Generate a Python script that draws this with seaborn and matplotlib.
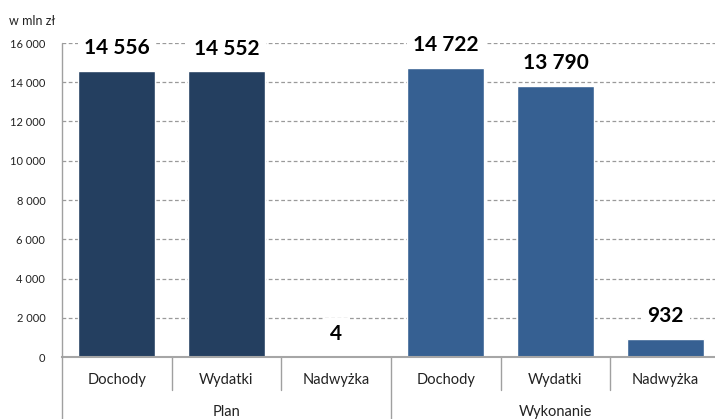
import numpy as np
import pandas as pd
import matplotlib
matplotlib.use("Agg")
import matplotlib.pyplot as plt
import seaborn as sns

# dane (w mln zł)
groups = ["Plan", "Plan", "Plan", "Wykonanie", "Wykonanie", "Wykonanie"]
categories = ["Dochody", "Wydatki", "Nadwyżka", "Dochody", "Wydatki", "Nadwyżka"]
values = [14556, 14552, 4, 14722, 13790, 932]
value_labels = ["14 556", "14 552", "4", "14 722", "13 790", "932"]
yticks = [0, 2000, 4000, 6000, 8000, 10000, 12000, 14000, 16000]
ytick_labels = ["0", "2 000", "4 000", "6 000", "8 000", "10 000", "12 000", "14 000", "16 000"]
group_names = ["Plan", "Wykonanie"]

df = pd.DataFrame({
    "key": [f"{g}|{c}" for g, c in zip(groups, categories)],
    "grupa": groups,
    "kategoria": categories,
    "wartosc": values,
})

sns.set_style("white")
plt.rcParams["font.family"] = ["Lato", "DejaVu Sans"]

fig = plt.figure(figsize=(7.15, 4.19), dpi=100)
W, H = 715, 419
x0, x1 = 62, 720
y0, y1 = 357, 43
ax = fig.add_axes([x0 / W, (H - y0) / H, (x1 - x0) / W, (y0 - y1) / H])

sns.barplot(data=df, x="key", y="wartosc", hue="grupa", order=list(df["key"]),
            palette={"Plan": "#243f60", "Wykonanie": "#366092"},
            dodge=False, width=0.7, saturation=1, legend=False, ax=ax, zorder=2)

ax.set_xlim(-0.5, 5.5)
ax.set_ylim(0, 16000)
ax.set_yticks(yticks)
ax.set_yticklabels(ytick_labels, fontsize=8, color="#222222")
ax.yaxis.grid(True, linestyle=(0, (3, 2)), color="#9a9a9a", linewidth=0.9, zorder=0)
ax.set_axisbelow(True)
ax.tick_params(axis="y", length=4, width=0.9, color="#a0a0a0", pad=8)
ax.tick_params(axis="x", length=0, labelbottom=False)
ax.set_xlabel("")
ax.set_ylabel("")
for s in ["top", "right", "left"]:
    ax.spines[s].set_visible(False)
ax.spines["bottom"].set_color("#a6a6a6")
ax.spines["bottom"].set_linewidth(1.5)

# lewa oś wydłużona do dołu
px = 1.0 / (y0 - y1)
ax.plot([-0.5, -0.5], [-(H - y0) * px, 1], transform=ax.get_xaxis_transform(),
        color="#a0a0a0", lw=1.0, clip_on=False, zorder=3)

# separatory kategorii i grup
tr = ax.get_xaxis_transform()
for xs in [0.5, 1.5, 3.5, 4.5]:
    ax.plot([xs, xs], [0, -33 * px], transform=tr, color="#a0a0a0", lw=1.0, clip_on=False)
ax.plot([2.5, 2.5], [0, -(H - y0) * px], transform=tr, color="#a0a0a0", lw=1.0, clip_on=False)

# etykiety kategorii i grup
for i, c in enumerate(categories):
    ax.text(i, -23 * px, c, transform=tr, ha="center", va="center", fontsize=10.5, color="#222222")
for j, g in enumerate(group_names):
    ax.text(1 + 3 * j, -55 * px, g, transform=tr, ha="center", va="center", fontsize=10.5, color="#222222")

# etykiety wartości
for i, (v, lab) in enumerate(zip(values, value_labels)):
    ax.annotate(lab, (i, v), xytext=(0, 16.5), textcoords="offset points",
                ha="center", va="center", fontsize=15, fontweight="bold", color="black",
                bbox=dict(boxstyle="square,pad=0.3", fc="white", ec="none"),
                annotation_clip=False, zorder=4)

fig.text(9 / W, 1 - 21 / H, "w mln zł", ha="left", va="center", fontsize=9, color="#222222")

fig.savefig("out.png", dpi=100)
